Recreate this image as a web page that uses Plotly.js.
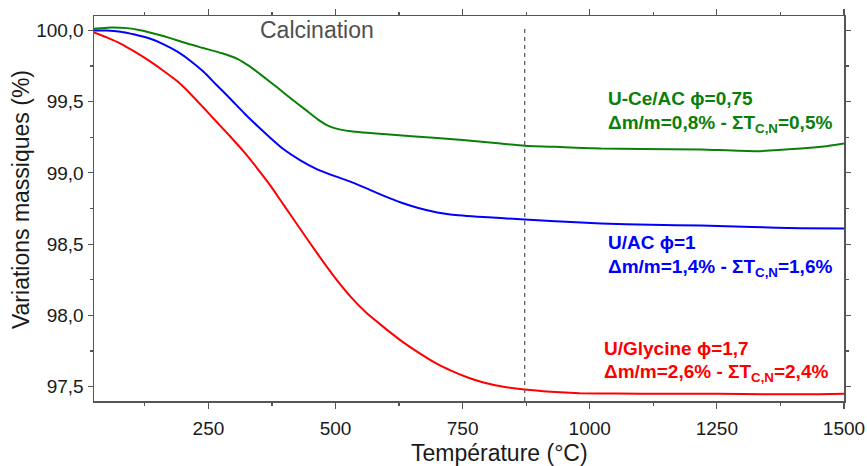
<!DOCTYPE html>
<html>
<head>
<meta charset="utf-8">
<script src="https://cdn.plot.ly/plotly-3.0.1.min.js"></script>
<style>html,body{margin:0;padding:0;background:#fff;}#chart{width:867px;height:466px;}</style>
</head>
<body>
<div id="chart"></div>
<script>
// Temperature (°C) and mass variation (%)
const greenT = [25, 57, 90, 116, 150, 175, 210, 240, 275, 307, 330, 358, 385, 411, 440, 465, 482, 500, 530, 600, 700, 750, 825, 872, 950, 1022, 1100, 1218, 1327, 1415, 1460, 1500];
const greenM = [100.01, 100.02, 100.015, 100.0, 99.97, 99.945, 99.905, 99.875, 99.84, 99.80, 99.75, 99.675, 99.60, 99.525, 99.445, 99.375, 99.337, 99.312, 99.292, 99.27, 99.245, 99.23, 99.205, 99.19, 99.18, 99.17, 99.168, 99.164, 99.152, 99.17, 99.185, 99.206];

const blueT = [25, 50, 77, 105, 136, 160, 189, 215, 240, 265, 293, 320, 346, 372, 398, 430, 464, 500, 530, 560, 594, 630, 661, 700, 726, 791, 825, 872, 923, 1022, 1120, 1218, 1320, 1415, 1500];
const blueM = [99.998, 99.998, 99.99, 99.97, 99.94, 99.905, 99.85, 99.785, 99.71, 99.62, 99.52, 99.42, 99.33, 99.245, 99.165, 99.09, 99.025, 98.975, 98.937, 98.893, 98.84, 98.79, 98.755, 98.722, 98.708, 98.69, 98.683, 98.672, 98.662, 98.645, 98.636, 98.63, 98.62, 98.612, 98.61];

const redT = [25, 50, 77, 105, 136, 160, 189, 215, 240, 265, 293, 320, 346, 372, 398, 430, 464, 500, 530, 560, 594, 630, 661, 700, 726, 760, 791, 830, 872, 923, 980, 1050, 1150, 1250, 1350, 1450, 1500];
const redM = [99.985, 99.95, 99.907, 99.85, 99.78, 99.72, 99.642, 99.553, 99.458, 99.362, 99.255, 99.147, 99.032, 98.91, 98.775, 98.61, 98.435, 98.26, 98.13, 98.02, 97.92, 97.82, 97.745, 97.66, 97.615, 97.565, 97.53, 97.5, 97.48, 97.465, 97.455, 97.452, 97.45, 97.45, 97.448, 97.447, 97.45];

const calcinationT = 872;

const xTitle = 'Température (°C)';
const yTitle = 'Variations massiques (%)';
const labelGreen = ["U-Ce/AC ϕ=0,75", "Δm/m=0,8% - ΣT<sub>C,N</sub>=0,5%"];
const labelBlue = ["U/AC ϕ=1", "Δm/m=1,4% - ΣT<sub>C,N</sub>=1,6%"];
const labelRed = ["U/Glycine ϕ=1,7", "Δm/m=2,6% - ΣT<sub>C,N</sub>=2,4%"];

const GREEN = '#0a800a', BLUE = '#0000ff', RED = '#ff0000';
const FONT = 'Liberation Sans, Arial, sans-serif';

const traces = [
  {x: greenT, y: greenM, mode: 'lines', line: {color: GREEN, width: 2, shape: 'spline', smoothing: 0.5}},
  {x: blueT, y: blueM, mode: 'lines', line: {color: BLUE, width: 2, shape: 'spline', smoothing: 0.5}},
  {x: redT, y: redM, mode: 'lines', line: {color: RED, width: 2, shape: 'spline', smoothing: 0.5}}
];

function ann(text, x, y, color, size, bold) {
  return {text: bold ? '<b>' + text + '</b>' : text, x: x, y: y, xref: 'x', yref: 'y',
    xanchor: 'left', yanchor: 'middle', showarrow: false,
    font: {family: FONT, size: size, color: color}};
}

const layout = {
  width: 867, height: 466,
  margin: {l: 94, r: 23, t: 16, b: 65},
  paper_bgcolor: '#fff', plot_bgcolor: '#fff',
  separators: ', ',
  showlegend: false,
  font: {family: FONT, size: 19, color: '#1a1a1a'},
  xaxis: {
    range: [25, 1500], tick0: 0, dtick: 250, tickformat: 'd',
    showgrid: false, zeroline: false,
    showline: true, linecolor: '#555', linewidth: 1.5, mirror: 'allticks',
    ticks: 'outside', ticklen: 6, tickwidth: 1.2, tickcolor: '#555',
    ticklabelstandoff: 4,
    minor: {dtick: 125, ticks: 'outside', ticklen: 3, tickwidth: 1.2, tickcolor: '#555'},
    tickfont: {family: FONT, size: 19, color: '#1a1a1a'}
  },
  yaxis: {
    range: [97.4, 100.1], tick0: 97.5, dtick: 0.5, tickformat: '.1f',
    showgrid: false, zeroline: false,
    showline: true, linecolor: '#555', linewidth: 1.5, mirror: 'allticks',
    ticks: 'outside', ticklen: 5, tickwidth: 1.2, tickcolor: '#555',
    minor: {dtick: 0.25, ticks: 'outside', ticklen: 3, tickwidth: 1.2, tickcolor: '#555'},
    tickfont: {family: FONT, size: 19, color: '#1a1a1a'}
  },
  shapes: [
    {type: 'line', xref: 'x', yref: 'y', x0: calcinationT, x1: calcinationT, y0: 97.4, y1: 100.035,
     line: {color: '#555', width: 1.2, dash: '4px,4px'}}
  ],
  annotations: [
    {text: xTitle, xref: 'paper', yref: 'paper', x: 0.54, y: -0.135, xanchor: 'center', yanchor: 'middle',
     showarrow: false, font: {family: FONT, size: 23, color: '#1a1a1a'}},
    {text: yTitle, xref: 'paper', yref: 'paper', x: -0.0973, y: 0.522, xanchor: 'center', yanchor: 'middle',
     textangle: -90, showarrow: false, font: {family: FONT, size: 23, color: '#1a1a1a'}},
    ann('Calcination', 348, 100.0, '#505050', 23, false),
    ann(labelGreen[0], 1032, 99.52, GREEN, 19, true),
    ann(labelGreen[1], 1032, 99.346, GREEN, 19, true),
    ann(labelBlue[0], 1032, 98.51, BLUE, 19, true),
    ann(labelBlue[1], 1032, 98.33, BLUE, 19, true),
    ann(labelRed[0], 1024, 97.77, RED, 19, true),
    ann(labelRed[1], 1024, 97.594, RED, 19, true)
  ]
};

Plotly.newPlot('chart', traces, layout, {displayModeBar: false, staticPlot: true});
</script>
</body>
</html>
